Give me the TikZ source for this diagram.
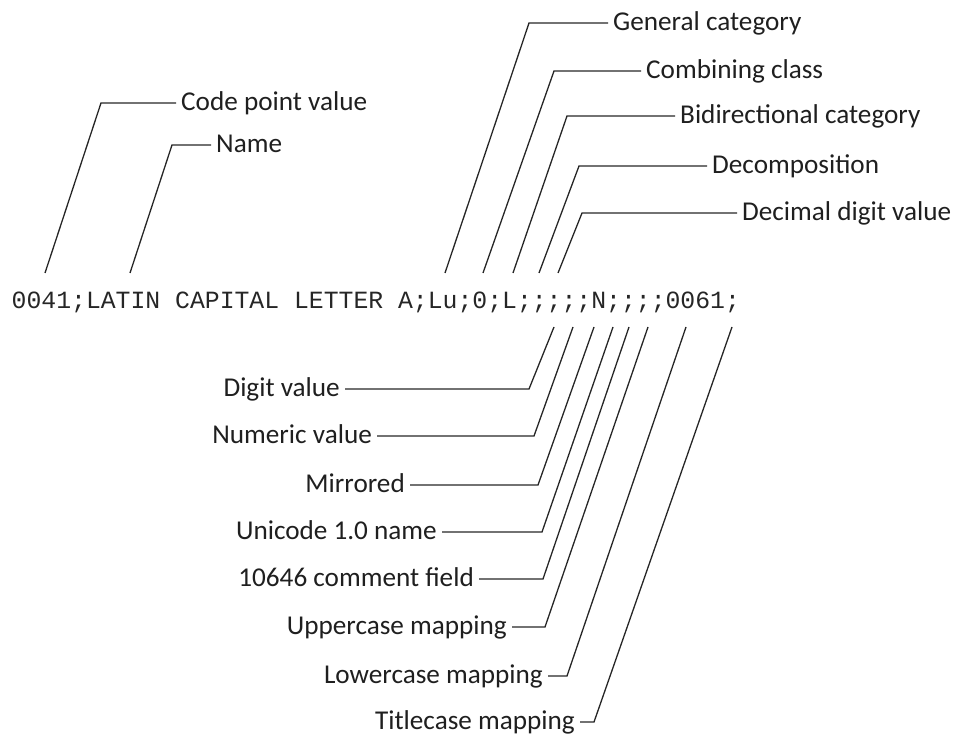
\documentclass[tikz,border=0pt]{standalone}
\usepackage{fontspec}
\setmainfont{Carlito}
\newfontfamily\codefont{Liberation Mono}
\begin{document}
\begin{tikzpicture}[x=1pt,y=-1pt,
  lab/.style={font=\fontsize{27.2}{30}\selectfont, text=black!88,
    inner ysep=0pt, inner xsep=5pt, text height=15pt, text depth=0pt},
  lead/.style={line width=1.3pt, draw=black!85, line join=miter}]
\useasboundingbox (0,0) rectangle (956,735);

% the UnicodeData record
\node[font=\codefont\fontsize{24.77}{28}\selectfont, text=black!85,
  inner sep=0pt, anchor=base west] (rec) at (11.5,308.3)
  {0041;LATIN CAPITAL LETTER A;Lu;0;L;;;;;N;;;;0061;};

% fields labelled above the record
\node[lab, anchor=west] (cpv) at (176,103) {Code point value};
\node[lab, anchor=west] (nam) at (211,145) {Name};
\node[lab, anchor=west] (gen) at (608,23)  {General category};
\node[lab, anchor=west] (cmb) at (641,71)  {Combining class};
\node[lab, anchor=west] (bid) at (675,116) {Bidirectional category};
\node[lab, anchor=west] (dec) at (707,166) {Decomposition};
\node[lab, anchor=west] (ddv) at (737,213) {Decimal digit value};

\coordinate (cpv-e) at (101,103); \coordinate (cpv-f) at (45,273);
\coordinate (nam-e) at (172,145); \coordinate (nam-f) at (130,273);
\coordinate (gen-e) at (529,23);  \coordinate (gen-f) at (445,273);
\coordinate (cmb-e) at (554,71);  \coordinate (cmb-f) at (483,273);
\coordinate (bid-e) at (567,116); \coordinate (bid-f) at (513,273);
\coordinate (dec-e) at (579,166); \coordinate (dec-f) at (539,273);
\coordinate (ddv-e) at (582,213); \coordinate (ddv-f) at (558,273);

\foreach \n in {cpv,nam,gen,cmb,bid,dec,ddv}
  \draw[lead] (\n-f) -- (\n-e) -- (\n.west);

% fields labelled below the record
\node[lab, anchor=east] (dgv) at (345,389) {Digit value};
\node[lab, anchor=east] (nmv) at (377,436) {Numeric value};
\node[lab, anchor=east] (mir) at (410,485) {Mirrored};
\node[lab, anchor=east] (uni) at (442,532) {Unicode 1.0 name};
\node[lab, anchor=east] (cmt) at (479,579) {10646 comment field};
\node[lab, anchor=east] (upc) at (512,627) {Uppercase mapping};
\node[lab, anchor=east] (loc) at (548,676) {Lowercase mapping};
\node[lab, anchor=east] (ttc) at (580,722) {Titlecase mapping};

\coordinate (dgv-e) at (529,389); \coordinate (dgv-f) at (554,327);
\coordinate (nmv-e) at (534,436); \coordinate (nmv-f) at (573,327);
\coordinate (mir-e) at (538,485); \coordinate (mir-f) at (594,327);
\coordinate (uni-e) at (542,532); \coordinate (uni-f) at (613,327);
\coordinate (cmt-e) at (543,579); \coordinate (cmt-f) at (629,327);
\coordinate (upc-e) at (545,627); \coordinate (upc-f) at (648,327);
\coordinate (loc-e) at (567,676); \coordinate (loc-f) at (686,327);
\coordinate (ttc-e) at (594,722); \coordinate (ttc-f) at (732,327);

\foreach \n in {dgv,nmv,mir,uni,cmt,upc,loc,ttc}
  \draw[lead] (\n.east) -- (\n-e) -- (\n-f);
\end{tikzpicture}
\end{document}
